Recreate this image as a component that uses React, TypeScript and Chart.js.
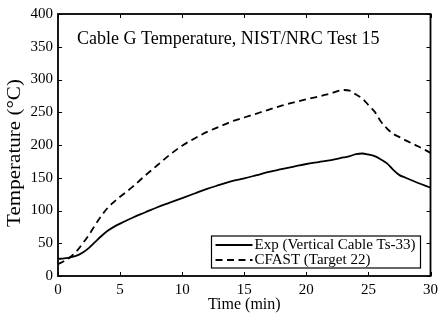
import React, { useEffect, useRef } from "react";
import { Chart, registerables } from "chart.js";

Chart.register(...registerables);

const times = [0, 0.5, 1, 1.5, 2, 2.5, 3, 3.5, 4, 4.5, 5, 6, 7, 8, 9, 10, 11, 12, 13, 14, 15, 16, 17, 18, 19, 20, 21, 22, 23, 23.5, 24, 24.5, 25, 25.5, 26, 26.5, 27, 27.5, 28, 29, 30];
const expValues = [26, 27, 28.5, 31, 36, 43, 52, 61, 69, 75, 80, 89, 97, 105, 112, 119, 126, 133, 139, 145, 149, 154, 159, 163, 167, 171, 174, 177, 181, 183, 186, 187, 185.5, 183, 178, 172, 162, 154, 150, 142, 135];
const cfastValues = [18, 23, 29, 38, 50, 63, 78, 92, 104, 113, 121, 136, 153, 169, 185, 199, 210, 220, 228, 236, 242, 248, 254, 260, 265, 270, 274, 279, 284, 283, 277, 271, 261, 251, 236, 225, 217, 212, 207, 198, 188];

const xTicks = [0, 5, 10, 15, 20, 25, 30];
const yTicks = [0, 50, 100, 150, 200, 250, 300, 350, 400];
const seriesLabels = ["Exp (Vertical Cable Ts-33)", "CFAST (Target 22)"];
const chartTitle = "Cable G Temperature, NIST/NRC Test 15";
const xTitle = "Time (min)";
const yTitle = "Temperature (°C)";

const FONT = "'Liberation Serif', 'Times New Roman', serif";

const framePlugin = {
  id: "frame",
  afterDatasetsDraw(chart: any) {
    const { ctx, chartArea: a, scales } = chart;
    ctx.save();
    ctx.strokeStyle = "#000";
    ctx.lineWidth = 1;
    const tl = 4;
    ctx.beginPath();
    xTicks.forEach((v) => {
      const x = Math.round(scales.x.getPixelForValue(v)) + 0.5;
      ctx.moveTo(x, a.bottom);
      ctx.lineTo(x, a.bottom - tl);
      ctx.moveTo(x, a.top);
      ctx.lineTo(x, a.top + tl);
    });
    yTicks.forEach((v) => {
      const y = Math.round(scales.y.getPixelForValue(v)) + 0.5;
      ctx.moveTo(a.left, y);
      ctx.lineTo(a.left + tl, y);
      ctx.moveTo(a.right, y);
      ctx.lineTo(a.right - tl, y);
    });
    ctx.stroke();
    ctx.lineWidth = 1.8;
    ctx.strokeRect(a.left, a.top, a.right - a.left, a.bottom - a.top);

    // inner title
    ctx.fillStyle = "#000";
    ctx.font = `18px ${FONT}`;
    ctx.textBaseline = "middle";
    ctx.textAlign = "left";
    ctx.fillText(chartTitle, a.left + 19, a.top + 25);

    // y axis title
    ctx.save();
    ctx.translate(15, (a.top + a.bottom) / 2 + 8);
    ctx.rotate(-Math.PI / 2);
    ctx.scale(1.17, 1);
    ctx.font = `18px ${FONT}`;
    ctx.textAlign = "center";
    ctx.textBaseline = "middle";
    ctx.fillText(yTitle, 0, 0);
    ctx.restore();

    // legend
    const bl = a.right - 219;
    const br = a.right - 10;
    const bt = a.bottom - 40;
    const bb = a.bottom - 8;
    ctx.fillStyle = "#fff";
    ctx.fillRect(bl, bt, br - bl, bb - bt);
    ctx.lineWidth = 1.2;
    ctx.strokeStyle = "#000";
    ctx.strokeRect(bl, bt, br - bl, bb - bt);
    const rows = [a.bottom - 31, a.bottom - 16];
    chart.data.datasets.forEach((ds: any, i: number) => {
      const y = rows[i];
      ctx.beginPath();
      ctx.setLineDash(ds.borderDash || []);
      ctx.lineWidth = ds.borderWidth;
      ctx.moveTo(bl + 4, y);
      ctx.lineTo(bl + 41, y);
      ctx.stroke();
      ctx.setLineDash([]);
      ctx.fillStyle = "#000";
      ctx.font = `15px ${FONT}`;
      ctx.textBaseline = "middle";
      ctx.textAlign = "left";
      ctx.fillText(ds.label, bl + 43, y);
    });
    ctx.restore();
  },
};

export default function App() {
  const ref = useRef<HTMLCanvasElement | null>(null);
  useEffect(() => {
    if (!ref.current) return;
    const chart = new Chart(ref.current, {
      type: "line",
      data: {
        datasets: [
          {
            label: seriesLabels[0],
            data: times.map((t, i) => ({ x: t, y: expValues[i] })),
            borderColor: "#000",
            borderWidth: 1.8,
            pointRadius: 0,
            cubicInterpolationMode: "monotone",
            fill: false,
          },
          {
            label: seriesLabels[1],
            data: times.map((t, i) => ({ x: t, y: cfastValues[i] })),
            borderColor: "#000",
            borderWidth: 1.8,
            borderDash: [7, 4.5],
            pointRadius: 0,
            cubicInterpolationMode: "monotone",
            fill: false,
          },
        ],
      },
      options: {
        responsive: false,
        animation: false,
        layout: { padding: { top: 14, right: 11, left: 0, bottom: 0 } },
        plugins: { legend: { display: false }, tooltip: { enabled: false } },
        scales: {
          x: {
            type: "linear",
            min: 0,
            max: 30,
            grid: { display: false, drawTicks: false },
            border: { display: false },
            afterBuildTicks: (s: any) => {
              s.ticks = xTicks.map((v) => ({ value: v }));
            },
            afterFit: (s: any) => {
              s.height = 44;
            },
            ticks: { color: "#000", font: { family: FONT, size: 15 }, padding: 5, maxRotation: 0 },
            title: { display: true, text: xTitle, color: "#000", font: { family: FONT, size: 16 }, padding: { top: 0, bottom: 6 } },
          },
          y: {
            type: "linear",
            min: 0,
            max: 400,
            grid: { display: false, drawTicks: false },
            border: { display: false },
            afterBuildTicks: (s: any) => {
              s.ticks = yTicks.map((v) => ({ value: v }));
            },
            afterFit: (s: any) => {
              s.width = 58;
            },
            ticks: { color: "#000", font: { family: FONT, size: 15 }, padding: 5 },
            title: { display: false, text: yTitle },
          },
        },
      },
      plugins: [framePlugin],
    });
    return () => chart.destroy();
  }, []);
  return (
    <div style={{ position: "fixed", left: 0, top: 0, width: 443, height: 320, background: "#fff" }}>
      <canvas ref={ref} width={443} height={320} style={{ width: 443, height: 320 }} />
    </div>
  );
}
